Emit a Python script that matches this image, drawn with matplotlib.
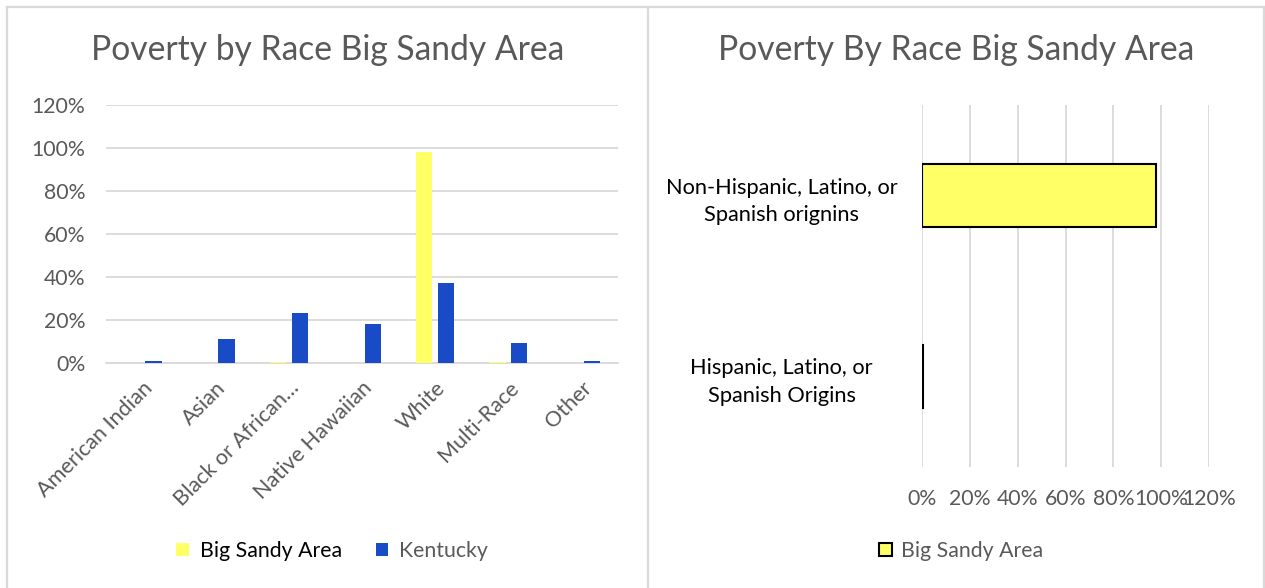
import matplotlib
matplotlib.use("Agg")
import matplotlib.pyplot as plt
from matplotlib.patches import Patch
from matplotlib.lines import Line2D
from matplotlib.ticker import PercentFormatter
import numpy as np

# ---- data ----
races = ["American Indian", "Asian", "Black or African…", "Native Hawaiian",
         "White", "Multi-Race", "Other"]
big_sandy_race = [0.0, 0.0, 0.005, 0.0, 0.98, 0.005, 0.0]
kentucky_race = [0.01, 0.11, 0.23, 0.18, 0.37, 0.09, 0.01]

origins = ["Hispanic, Latino, or\nSpanish Origins",
           "Non-Hispanic, Latino, or\nSpanish orignins"]
big_sandy_origin = [0.005, 0.98]

pct_ticks = [0.0, 0.2, 0.4, 0.6, 0.8, 1.0, 1.2]

# ---- style ----
FONT = "Lato"
YELLOW = "#FFFF66"
BLUE = "#1A4BC6"
GRID = "#D9D9D9"
TXT = "#595959"
FS = 15.3

W, H = 1265, 588
fig = plt.figure(figsize=(W / 100, H / 100), dpi=100)
fig.patch.set_facecolor("white")


def frac_box(x0, y0, x1, y1):
    return [x0 / W, 1 - y1 / H, (x1 - x0) / W, (y1 - y0) / H]


# panel borders
for xs, ys in [([7, 7], [7, H]), ([7, W - 1], [7, 7]), ([648, 648], [7, H]),
               ([W - 1, W - 1], [7, H])]:
    fig.add_artist(Line2D([x / W for x in xs], [1 - y / H for y in ys],
                          color=GRID, lw=1.6, transform=fig.transFigure))

# ---- left: clustered columns ----
ax1 = fig.add_axes(frac_box(106, 105.3, 618, 362.7))
x = np.arange(len(races))
bw = 0.223
off = 0.149
ax1.bar(x - off, big_sandy_race, bw, color=YELLOW, zorder=3)
ax1.bar(x + off, kentucky_race, bw, color=BLUE, zorder=3)
ax1.set_xlim(-0.5, len(races) - 0.5)
ax1.set_ylim(0, 1.2)
ax1.set_yticks(pct_ticks)
ax1.yaxis.set_major_formatter(PercentFormatter(1.0, decimals=0))
ax1.grid(axis="y", color=GRID, lw=1.3, zorder=0)
for s in ["top", "right", "left"]:
    ax1.spines[s].set_visible(False)
ax1.spines["bottom"].set_color(GRID)
ax1.spines["bottom"].set_linewidth(1.3)
ax1.tick_params(length=0, labelsize=FS, labelcolor=TXT)
ax1.tick_params(axis="y", pad=15)
ax1.set_xticks(x)
ax1.set_xticklabels(races, rotation=45, ha="right", va="top",
                    rotation_mode="anchor", fontsize=FS + 0.3, color=TXT,
                    family=FONT)
ax1.tick_params(axis="x", pad=11)
for t in ax1.get_yticklabels():
    t.set_family(FONT)
fig.text(328 / W, 1 - 50 / H, "Poverty by Race Big Sandy Area",
         ha="center", va="center", fontsize=24.2, color=TXT, family=FONT)

leg1 = fig.legend(handles=[Patch(facecolor=YELLOW, edgecolor="none"),
                           Patch(facecolor=BLUE, edgecolor="none")],
                  labels=["Big Sandy Area", "Kentucky"],
                  loc="center", bbox_to_anchor=(332 / W, 1 - 551 / H),
                  ncol=2, frameon=False, prop={"family": FONT, "size": FS},
                  handlelength=0.6, handleheight=0.6, handletextpad=0.5,
                  columnspacing=1.6)
leg1.get_texts()[0].set_color("black")
leg1.get_texts()[1].set_color(TXT)

# ---- right: horizontal bars ----
ax2 = fig.add_axes(frac_box(922, 105, 1209, 467))
y = np.arange(len(origins))
ax2.barh(y, big_sandy_origin, 0.35, color=YELLOW, edgecolor="black",
         linewidth=1.5, zorder=3)
ax2.set_ylim(-0.5, len(origins) - 0.5)
ax2.set_xlim(0, 1.2)
ax2.set_xticks(pct_ticks)
ax2.xaxis.set_major_formatter(PercentFormatter(1.0, decimals=0))
ax2.grid(axis="x", color=GRID, lw=1.3, zorder=0)
for s in ["top", "right", "bottom", "left"]:
    ax2.spines[s].set_visible(False)
ax2.tick_params(length=0, labelsize=FS, labelcolor=TXT)
ax2.tick_params(axis="x", pad=16)
ax2.set_yticks(y)
ax2.set_yticklabels(origins, fontsize=FS + 0.4, color="black", family=FONT,
                    ha="center", multialignment="center", linespacing=1.45)
ax2.tick_params(axis="y", pad=101)
for t in ax2.get_xticklabels():
    t.set_family(FONT)
fig.text(956 / W, 1 - 50 / H, "Poverty By Race Big Sandy Area",
         ha="center", va="center", fontsize=24.2, color=TXT, family=FONT)

leg2 = fig.legend(handles=[Patch(facecolor=YELLOW, edgecolor="black",
                                 linewidth=1.5)],
                  labels=["Big Sandy Area"],
                  loc="center", bbox_to_anchor=(961 / W, 1 - 551 / H),
                  frameon=False, prop={"family": FONT, "size": FS},
                  handlelength=0.6, handleheight=0.6, handletextpad=0.4)
leg2.get_texts()[0].set_color(TXT)

fig.savefig("out.png", dpi=100, facecolor="white")
